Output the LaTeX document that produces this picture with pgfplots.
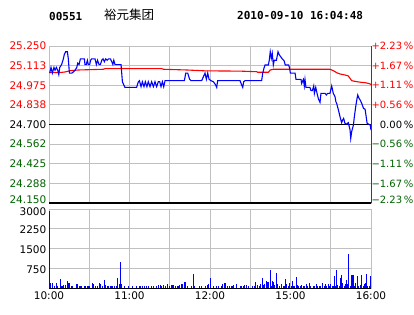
\documentclass[border=0pt]{standalone}
\usepackage{pgfplots}
\usepackage{pgfplotstable}
\pgfplotsset{compat=1.18}
\usepackage{fontspec}
\setmainfont{DejaVu Sans}
\newfontfamily\monofam{DejaVu Sans Mono}
\newfontfamily\cjk{Noto Sans CJK SC}
\definecolor{gridgray}{RGB}{192,192,192}
\definecolor{dgreen}{RGB}{0,100,0}
\definecolor{pblue}{RGB}{0,0,255}
\definecolor{pred}{RGB}{255,0,0}

\pgfplotstableread{
t p
0.5 25.06
1.5 25.10
2.5 25.06
3.7 25.10
4.5 25.08
5.5 25.10
6.5 25.08
7.3 25.05
8.0 25.10
9.4 25.12
10.7 25.16
11.4 25.19
12.4 25.21
13.7 25.21
14.4 25.16
15.2 25.06
17.0 25.06
18.4 25.07
19.4 25.08
20.7 25.10
21.4 25.13
22.4 25.12
23.4 25.16
26.4 25.16
26.8 25.12
27.8 25.12
28.6 25.15
29.3 25.12
30.3 25.12
31.0 25.15
31.8 25.16
34.3 25.16
35.3 25.12
36.2 25.15
37.3 25.12
38.3 25.12
39.3 25.15
40.3 25.16
41.3 25.14
42.3 25.16
43.3 25.15
44.3 25.16
45.8 25.16
46.8 25.14
47.6 25.12
48.3 25.15
49.2 25.12
53.7 25.12
54.7 25.00
55.6 24.98
56.6 24.96
65.3 24.96
66.6 25.00
67.4 25.007
68.6 24.965
69.6 25.00
70.8 24.965
71.8 25.00
73.0 24.965
74.0 25.00
75.3 24.965
76.5 25.00
77.8 24.965
79.0 25.00
80.2 24.965
81.5 25.00
82.5 25.00
83.5 24.965
84.5 25.00
85.5 24.965
86.5 25.007
100.9 25.007
101.9 25.06
103.4 25.06
104.8 25.017
105.8 25.007
113.8 25.007
115.3 25.04
116.3 25.06
117.3 25.017
118.3 25.06
119.3 25.017
120.7 25.007
122.5 25.00
124.2 24.977
125.0 24.96
125.7 25.007
142.4 25.007
143.6 24.977
144.4 24.96
145.1 25.00
146.1 25.007
158.5 25.007
159.3 25.06
160.2 25.094
161.0 25.117
163.5 25.117
164.2 25.152
164.9 25.21
165.7 25.164
166.4 25.199
167.2 25.117
167.9 25.15
169.5 25.15
170.7 25.21
171.7 25.187
172.7 25.175
173.9 25.159
175.2 25.147
176.1 25.117
178.6 25.117
179.2 25.10
179.9 25.06
183.4 25.06
184.1 25.016
187.8 25.016
188.3 24.988
189.6 25.016
190.3 24.970
190.8 25.016
191.5 24.960
194.5 24.960
195.3 24.937
196.3 24.937
197.3 24.970
197.8 24.918
198.8 24.960
199.8 24.918
200.8 24.880
202.0 24.855
202.7 24.918
205.8 24.918
206.7 24.907
207.7 24.918
209.4 24.918
210.7 24.970
211.9 24.918
213.2 24.895
213.8 24.860
214.4 24.848
215.7 24.802
216.9 24.755
218.1 24.713
218.9 24.732
219.6 24.743
220.6 24.708
221.9 24.703
223.1 24.713
224.4 24.661
224.9 24.603
225.6 24.650
226.9 24.697
227.6 24.755
228.6 24.825
229.4 24.872
230.1 24.907
231.1 24.883
231.9 24.872
233.1 24.848
234.4 24.813
235.6 24.807
236.4 24.755
237.1 24.708
238.1 24.703
239.4 24.697
240.0 24.661
}\pricetab

\pgfplotstableread{
t a
0.5 25.063
8.0 25.064
11.9 25.068
15.7 25.077
21.9 25.082
40.5 25.087
41.7 25.091
84.0 25.091
85.2 25.087
102.6 25.082
116.3 25.076
142.4 25.074
154.8 25.070
155.5 25.066
163.5 25.066
164.9 25.082
167.2 25.087
209.4 25.087
210.7 25.082
211.9 25.077
213.2 25.070
214.4 25.063
216.9 25.054
220.6 25.047
223.1 25.040
224.4 25.023
225.6 25.007
229.4 25.000
233.1 24.995
235.6 24.993
238.1 24.988
240.0 24.981
}\avgtab

\pgfplotstableread{
t v
0.5 2940
1.49 190
2.24 190
4.47 100
5.47 190
6.46 100
8.20 355
8.95 100
9.94 100
10.93 127
11.93 127
13.42 280
14.41 190
15.16 215
16.40 90
17.39 90
20.13 165
20.87 165
22.36 90
23.36 90
24.35 90
26.34 90
27.33 90
28.57 90
29.32 90
30.06 90
32.05 190
32.80 165
34.29 90
35.78 90
37.52 190
38.51 152
39.75 90
41.24 317
42.24 127
43.23 90
44.23 90
45.72 90
46.71 90
47.70 90
49.19 90
50.19 101
50.93 380
52.18 152
53.17 990
53.92 165
56.15 90
59.13 90
62.11 90
65.35 90
67.33 90
68.33 90
69.57 90
71.06 90
72.30 90
74.04 90
76.52 90
78.02 90
79.75 90
81.49 127
82.74 127
83.98 90
85.22 127
86.46 90
87.95 152
89.44 90
90.93 127
91.93 127
92.92 127
94.41 90
95.41 90
96.40 90
97.39 127
98.39 165
99.38 152
100.87 230
101.37 255
103.35 101
106.34 90
107.58 530
108.33 90
111.80 90
113.79 90
116.28 90
118.02 127
118.76 165
120.74 380
122.48 90
124.97 90
126.21 90
128.2 90
129.19 165
130.68 190
131.67 190
133.17 90
134.16 90
135.65 90
136.64 90
137.64 127
140.12 165
142.61 90
143.6 90
144.6 90
145.59 127
147.08 127
148.57 90
151.55 90
153.04 90
154.28 230
155.53 127
156.52 90
157.51 152
159.0 380
160.0 127
160.99 152
161.74 300
162.73 255
163.72 230
164.97 685
165.96 90
166.71 300
167.45 255
168.44 127
169.44 570
170.43 165
171.43 90
173.41 177
174.41 90
175.4 90
176.15 355
177.14 152
178.38 90
179.38 190
180.37 90
181.36 300
182.36 90
183.35 90
184.35 430
185.34 127
186.33 90
187.33 90
188.32 127
189.32 90
190.31 90
191.8 177
192.8 90
193.79 190
194.78 90
196.77 90
197.76 90
199.25 177
200.25 90
201.24 90
202.23 90
203.72 190
205.22 90
206.21 177
207.2 90
208.2 152
209.19 90
210.18 177
211.18 90
212.17 90
212.67 480
213.66 90
214.16 685
215.15 127
216.15 90
217.14 405
217.89 505
218.63 190
220.12 90
221.12 177
221.86 317
222.61 165
223.35 1290
224.35 90
225.59 505
226.58 505
227.58 90
228.57 190
229.57 480
230.56 90
231.8 127
233.04 505
234.04 90
235.03 152
236.03 190
236.52 545
237.52 90
238.51 90
239.5 480
}\voltab

\begin{document}
\begin{tikzpicture}
\useasboundingbox (0pt,0pt) rectangle (414pt,-314pt);
\fill[white] (0pt,0pt) rectangle (414pt,-314pt);

% header
\node[anchor=west, inner sep=0pt, font=\monofam\bfseries\fontsize{11}{12}\selectfont] at (49pt,-16pt) {00551};
\node[anchor=west, inner sep=0pt, font=\cjk\fontsize{12.5}{14}\selectfont] at (104pt,-15pt) {裕元集团};
\node[anchor=west, inner sep=0pt, font=\monofam\bfseries\fontsize{11}{12}\selectfont] at (237pt,-16pt) {2010-09-10 16:04:48};

% price panel
\begin{axis}[
  at={(49pt,-203pt)}, anchor=south west,
  scale only axis, width=322pt, height=157pt,
  xmin=0, xmax=240, ymin=24.15, ymax=25.25,
  xtick={0,30,...,240}, xticklabels={},
  ytick={24.15,24.2875,24.425,24.5625,24.7,24.8375,24.975,25.1125,25.25},
  yticklabels={\raisebox{3pt}[\height][\depth]{\textcolor{dgreen}{24.150}},\textcolor{dgreen}{24.288},\textcolor{dgreen}{24.425},\textcolor{dgreen}{24.562},24.700,\textcolor{pred}{24.838},\textcolor{pred}{24.975},\textcolor{pred}{25.113},\textcolor{pred}{25.250}},
  major tick length=0pt,
  grid=major, grid style={gridgray, line width=0.9pt},
  axis line style={gridgray, line width=0.9pt},
  tick label style={font=\fontsize{10.5}{12}\selectfont},
  /pgf/number format/assume math mode=true,
  yticklabel style={inner xsep=2.5pt, inner ysep=0pt},
]
\draw[black, line width=1pt] (axis cs:0,24.7) -- (axis cs:240,24.7);
\draw[black, line width=1.2pt] (rel axis cs:0,0) -- (rel axis cs:1,0);
\addplot[pred, line width=1.1pt, no marks] table[x=t, y=a] {\avgtab};
\addplot[pblue, line width=1.1pt, no marks] table[x=t, y=p] {\pricetab};
\end{axis}

% right percentage axis
\begin{axis}[
  at={(49pt,-203pt)}, anchor=south west,
  scale only axis, width=322pt, height=157pt,
  xmin=0, xmax=240, ymin=24.15, ymax=25.25,
  axis x line=none, axis y line*=right,
  y axis line style={black!75, line width=0.9pt},
  ytick={24.15,24.2875,24.425,24.5625,24.7,24.8375,24.975,25.1125,25.25},
  yticklabels={\raisebox{3pt}[\height][\depth]{\textcolor{dgreen}{−2.23\,\%}},\textcolor{dgreen}{−1.67\,\%},\textcolor{dgreen}{−1.11\,\%},\textcolor{dgreen}{−0.56\,\%},\phantom{+}0.00\,\%,\textcolor{pred}{+0.56\,\%},\textcolor{pred}{+1.11\,\%},\textcolor{pred}{+1.67\,\%},\textcolor{pred}{+2.23\,\%}},
  major tick length=0pt,
  tick label style={font=\fontsize{10}{12}\selectfont},
  yticklabel style={anchor=west, inner xsep=0.3pt, inner ysep=0pt},
]
\addplot[draw=none, no marks] coordinates {(0,24.7)};
\end{axis}

% volume panel
\begin{axis}[
  at={(49pt,-288.5pt)}, anchor=south west,
  scale only axis, width=322pt, height=79.5pt,
  xmin=0, xmax=240, ymin=0, ymax=3000,
  xtick={0,30,...,240},
  xticklabels={10:00,,11:00,,12:00,,15:00,,16:00},
  ytick={750,1500,2250,3000},
  yticklabels={750,1500,2250,\raisebox{-2pt}[\height][\depth]{3000}},
  major tick length=0pt,
  grid=major, grid style={gridgray, line width=0.9pt},
  axis line style={gridgray, line width=0.9pt},
  tick label style={font=\fontsize{10.5}{12}\selectfont},
  yticklabel style={inner xsep=2.5pt, inner ysep=0pt, yshift=-1pt},
  xticklabel style={inner ysep=3pt},
]
\addplot[ycomb, pblue, line width=1pt, no marks] table[x=t, y=v] {\voltab};
\draw[black, line width=1pt] (rel axis cs:0,0) -- (rel axis cs:1,0);
\end{axis}
\end{tikzpicture}
\end{document}
